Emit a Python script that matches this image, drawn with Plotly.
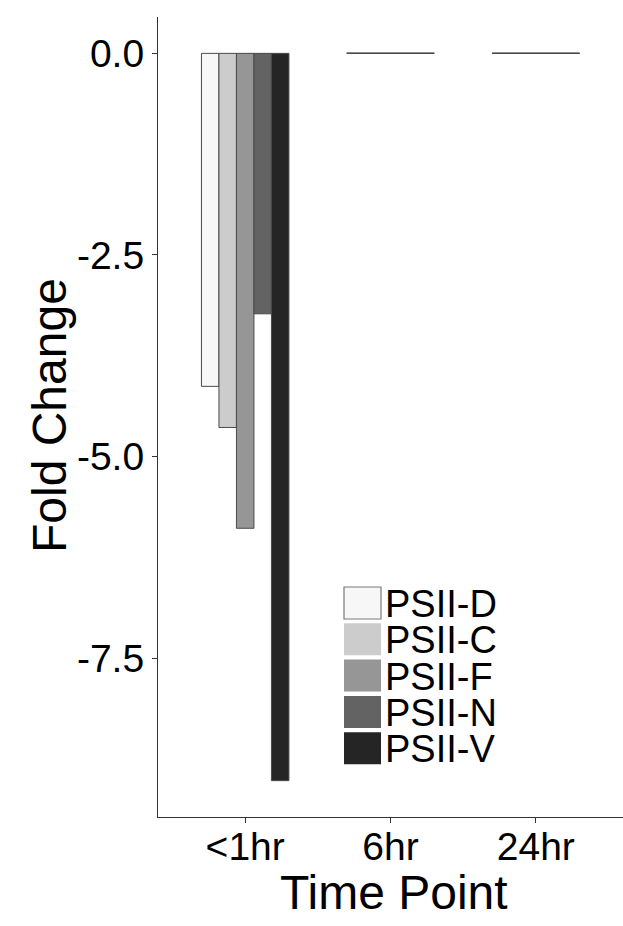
import plotly.graph_objects as go

# ---------------- data ----------------
time_points = ["<1hr", "6hr", "24hr"]
series_names = ["PSII-D", "PSII-C", "PSII-F", "PSII-N", "PSII-V"]
psii_d = [-4.13, 0, 0]
psii_c = [-4.64, 0, 0]
psii_f = [-5.89, 0, 0]
psii_n = [-3.23, 0, 0]
psii_v = [-9.02, 0, 0]
y_ticks = [0, -2.5, -5.0, -7.5]
y_tick_labels = ["0.0", "-2.5", "-5.0", "-7.5"]
x_title = "Time Point"
y_title = "Fold Change"

# ---------------- style ----------------
colors = ["#F7F7F7", "#CCCCCC", "#969696", "#636363", "#252525"]
W, H = 623, 926
ML, MR, MT, MB = 158, 0, 17, 109
BARGAP = 0.398
FONT = "Liberation Sans, Arial, sans-serif"
OUTLINE = "#4a4a4a"

series_values = [psii_d, psii_c, psii_f, psii_n, psii_v]
xs = list(range(len(time_points)))

fig = go.Figure()
for name, vals, col in zip(series_names, series_values, colors):
    fig.add_trace(go.Bar(
        x=xs, y=vals, name=name,
        marker=dict(color=col, line=dict(color=OUTLINE, width=1)),
        showlegend=False,
    ))

# outlines of zero-height bars (drawn as flat lines like the reference)
group_w = 1 - BARGAP
zx, zy = [], []
for i in xs:
    if all(v[i] == 0 for v in series_values):
        zx += [i - group_w / 2, i + group_w / 2, None]
        zy += [0, 0, None]
fig.add_trace(go.Scatter(x=zx, y=zy, mode="lines",
                         line=dict(color=OUTLINE, width=1.5),
                         showlegend=False, hoverinfo="skip"))

all_vals = [v for s in series_values for v in s]
ymin, ymax = min(all_vals + [0]), max(all_vals + [0])
pad = 0.05 * (ymax - ymin)

fig.update_layout(
    width=W, height=H,
    margin=dict(l=ML, r=MR, t=MT, b=MB, autoexpand=False),
    paper_bgcolor="white", plot_bgcolor="white",
    barmode="group", bargap=BARGAP, bargroupgap=0,
    font=dict(family=FONT, color="black"),
    xaxis=dict(
        range=[-0.6, len(time_points) - 0.4],
        tickmode="array", tickvals=xs, ticktext=time_points,
        showline=True, linecolor="#333333", linewidth=1.2,
        ticks="outside", ticklen=5, tickcolor="#333333", tickwidth=1.2,
        ticklabelstandoff=-10,
        showgrid=False, zeroline=False,
        tickfont=dict(size=39, family=FONT, color="black"),
        automargin=False,
    ),
    yaxis=dict(
        range=[ymin - pad, ymax + pad],
        tickmode="array", tickvals=y_ticks, ticktext=y_tick_labels,
        showline=True, linecolor="#333333", linewidth=1.2,
        ticks="outside", ticklen=5, tickcolor="#333333", tickwidth=1.2,
        showgrid=False, zeroline=False,
        tickfont=dict(size=39, family=FONT, color="black"),
        automargin=False,
    ),
)

PW, PH = W - ML - MR, H - MT - MB
def px_x(px):
    return (px - ML) / PW
def px_y(py):
    return 1 - (py - MT) / PH

# axis titles
fig.add_annotation(xref="paper", yref="paper", x=px_x(394), y=px_y(892),
                   text=x_title, showarrow=False, xanchor="center", yanchor="middle",
                   font=dict(size=48, family=FONT, color="black"))
fig.add_annotation(xref="paper", yref="paper", x=px_x(49), y=px_y(416),
                   text=y_title, showarrow=False, xanchor="center", yanchor="middle",
                   textangle=-90, font=dict(size=48, family=FONT, color="black"))

# ---------------- manual legend (large keys like the reference) ----------------
KEY_L, KEY_R, KEY_TOP, KEY_H, KEY_STEP = 344, 381, 587, 32, 36.3
for k, (name, col) in enumerate(zip(series_names, colors)):
    top = KEY_TOP + k * KEY_STEP
    light = col.upper() in ("#F7F7F7", "#FFFFFF")
    fig.add_shape(type="rect", xref="paper", yref="paper",
                  x0=px_x(KEY_L), x1=px_x(KEY_R), y0=px_y(top + KEY_H), y1=px_y(top),
                  fillcolor=col, line=dict(color="#7a7a7a", width=1.2 if light else 0))
    fig.add_annotation(xref="paper", yref="paper", x=px_x(KEY_R + 3), y=px_y(top + KEY_H / 2 + 1),
                       text=name, showarrow=False, xanchor="left", yanchor="middle",
                       height=KEY_STEP - 2, valign="middle", borderpad=0,
                       font=dict(size=38, family=FONT, color="black"))

fig.write_html("out.html", config={"displayModeBar": False},
               post_script="document.body.style.margin='0';document.body.style.overflow='hidden';")
